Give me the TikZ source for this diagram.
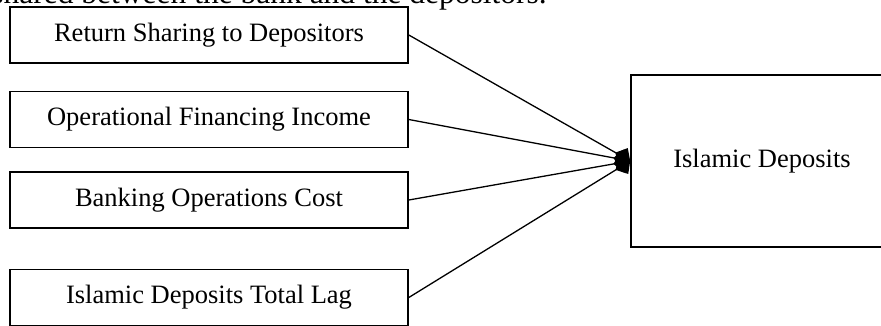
\documentclass[tikz,border=0pt]{standalone}
\usepackage{fontspec}
\setmainfont{Liberation Serif}
\usepackage{xcolor}
\usetikzlibrary{arrows.meta,positioning}
\definecolor{ink}{HTML}{000000}
\definecolor{paper}{HTML}{FFFFFF}
\tikzset{
  box/.style={draw=ink, line width=1.6pt, minimum width=398pt, minimum height=56pt, inner sep=0pt, font=\fontsize{26.5}{31}\selectfont},
  bigbox/.style={draw=ink, line width=1.6pt, minimum width=262pt, minimum height=172pt, inner sep=0pt, font=\fontsize{26.5}{31}\selectfont},
  link/.style={draw=ink, line width=1.3pt, -{Diamond[length=17pt,width=20pt]}},
  lab/.style={text=ink, font=\fontsize{31.5}{37}\selectfont, inner sep=0pt},
}
\begin{document}
\begin{tikzpicture}[x=1pt,y=1pt]
\useasboundingbox[fill=paper] (0,0) rectangle (881,325);
\clip (0,0) rectangle (881,325);
% running text cut at the top
\node[lab, anchor=base east] (runtext) at (547,321) {shared between the bank and the depositors.};

% left boxes
\node[box] (ret) at (209,290) {Return Sharing to Depositors};
\node[box] (fin) at (209,205.5) {Operational Financing Income};
\node[box] (cost) at (209,125) {Banking Operations Cost};
\node[box] (lag) at (209,27.5) {Islamic Deposits Total Lag};

% right box
\node[bigbox] (dep) at (762,164) {Islamic Deposits};

% links
\foreach \n in {ret,fin,cost,lag}{
  \draw[link] (\n.east) -- (dep.west);
}
\end{tikzpicture}
\end{document}
